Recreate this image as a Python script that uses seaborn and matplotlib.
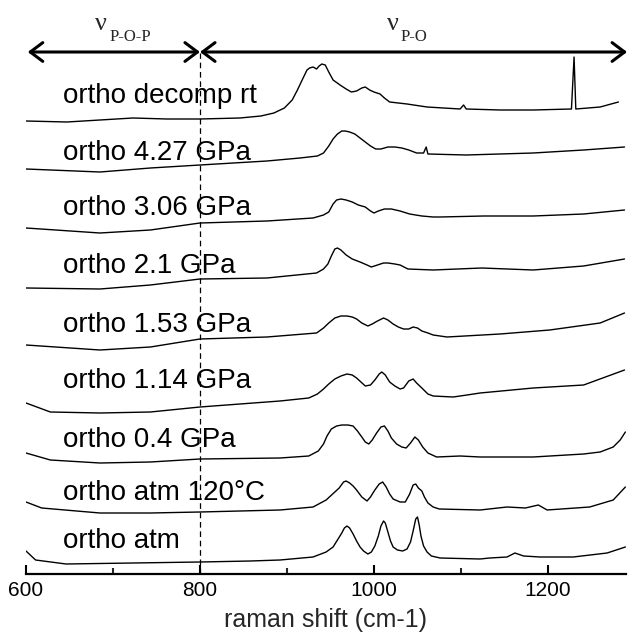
import matplotlib
matplotlib.use("Agg")
import matplotlib.pyplot as plt
from matplotlib.patches import FancyArrowPatch
from matplotlib.ticker import MultipleLocator
import seaborn as sns
import pandas as pd

# ---- data (stacked Raman traces, intensity in arbitrary offset units) ----
labels = ["ortho decomp rt", "ortho 4.27 GPa", "ortho 3.06 GPa", "ortho 2.1 GPa",
          "ortho 1.53 GPa", "ortho 1.14 GPa", "ortho 0.4 GPa", "ortho atm 120°C",
          "ortho atm"]

decomp_x = [600, 647, 685, 723, 762, 800, 846, 870, 885, 897, 906, 912, 918, 923, 926, 930,
            934, 937, 940, 944, 948, 953, 961, 968, 974, 980, 986, 990, 995, 1000, 1007,
            1012, 1018, 1028, 1038, 1061, 1099, 1103, 1106, 1145, 1183, 1227, 1230, 1232,
            1260, 1281]
decomp_y = [453, 452, 454, 456, 455, 455, 456, 458, 461, 466, 474, 484, 495, 504, 506, 507,
            505, 508, 510, 509, 502, 494, 489, 485, 482, 483, 486, 487, 484, 482, 480,
            476, 472, 471, 470, 467, 465, 469, 465, 464, 464, 465, 517, 465,
            467, 472]

p427_x = [600, 685, 743, 800, 877, 915, 935, 942, 948, 953, 958, 963, 967, 972, 978, 984,
          990, 996, 1002, 1008, 1016, 1024, 1032, 1040, 1049, 1057, 1060, 1062, 1106, 1183,
          1241, 1288]
p427_y = [405, 402, 406, 409, 413, 416, 418, 421, 428, 435, 440, 443, 443, 442, 440, 436,
          432, 428, 425, 425, 427, 427, 426, 424, 421, 421, 427, 420, 419, 421,
          424, 427]

p306_x = [600, 685, 743, 800, 877, 930, 942, 948, 953, 957, 962, 968, 975, 982, 990, 996,
          1000, 1005, 1012, 1020, 1030, 1041, 1055, 1068, 1076, 1126, 1183, 1241, 1288]
p306_y = [346, 341, 344, 351, 353, 356, 359, 362, 370, 374, 375, 374, 372, 369, 367, 363,
          361, 363, 365, 365, 363, 360, 358, 357, 357, 358, 358, 360, 364]

p21_x = [600, 685, 743, 800, 877, 934, 942, 947, 951, 955, 958, 962, 968, 975, 984, 992,
         997, 1004, 1011, 1016, 1024, 1030, 1039, 1068, 1124, 1183, 1241, 1288]
p21_y = [286, 285, 289, 295, 296, 301, 305, 310, 318, 325, 326, 324, 319, 315, 312, 309,
         307, 309, 311, 311, 310, 309, 305, 304, 306, 304, 308, 315]

p153_x = [600, 685, 743, 800, 877, 934, 942, 948, 955, 962, 969, 975, 980, 986, 993, 998,
          1004, 1011, 1016, 1022, 1028, 1034, 1040, 1045, 1050, 1055, 1062, 1068, 1084,
          1145, 1202, 1260, 1288]
p153_y = [229, 224, 227, 235, 237, 241, 246, 251, 256, 258, 258, 257, 255, 251, 248, 250,
          253, 256, 254, 250, 247, 245, 245, 247, 246, 243, 241, 239, 237,
          240, 244, 251, 261]

p114_x = [600, 628, 685, 743, 800, 892, 925, 935, 942, 948, 955, 962, 969, 975, 980, 985,
          990, 996, 1001, 1006, 1009, 1013, 1018, 1024, 1030, 1034, 1040, 1045, 1049, 1055,
          1062, 1068, 1091, 1107, 1122, 1183, 1241, 1288]
p114_y = [171, 162, 161, 162, 167, 173, 176, 180, 185, 190, 195, 198, 200, 199, 196, 192,
          188, 189, 194, 200, 202, 199, 192, 188, 185, 186, 193, 195, 191, 186,
          180, 178, 177, 179, 181, 186, 189, 204]

p04_x = [600, 628, 685, 743, 800, 892, 925, 936, 942, 946, 951, 957, 963, 970, 976, 981,
         986, 990, 994, 998, 1003, 1008, 1012, 1016, 1020, 1026, 1032, 1037, 1042, 1047,
         1051, 1056, 1062, 1072, 1099, 1122, 1183, 1241, 1260, 1275, 1283, 1289]
p04_y = [121, 114, 111, 112, 115, 116, 118, 123, 130, 138, 145, 148, 149, 149, 148, 143,
         137, 132, 130, 134, 141, 147, 148, 143, 136, 130, 127, 126, 131, 137,
         134, 127, 121, 117, 118, 117, 117, 120, 122, 127, 134, 142]

p120_x = [600, 618, 685, 743, 800, 892, 930, 945, 955, 960, 965, 968, 972, 976, 980, 986,
          992, 996, 1001, 1006, 1010, 1014, 1018, 1022, 1030, 1036, 1041, 1045, 1048, 1051,
          1055, 1058, 1062, 1068, 1075, 1122, 1153, 1174, 1189, 1199, 1248, 1275, 1289]
p120_y = [72, 66, 61, 61, 62, 64, 67, 74, 82, 86, 92, 93, 91, 88, 84, 77,
          73, 77, 84, 90, 92, 87, 80, 75, 72, 72, 80, 89, 90, 86,
          83, 77, 71, 67, 65, 64, 67, 66, 69, 64, 67, 74, 87]

patm_x = [600, 611, 646, 723, 800, 858, 892, 930, 945, 953, 958, 963, 966, 969, 972, 976,
          980, 984, 988, 993, 997, 1001, 1005, 1008, 1011, 1013, 1016, 1019, 1022, 1027,
          1033, 1038, 1042, 1045, 1048, 1050, 1052, 1054, 1057, 1061, 1066, 1076, 1122,
          1133, 1153, 1162, 1172, 1191, 1229, 1268, 1289]
patm_y = [23, 14, 10, 11, 12, 13, 14, 17, 22, 27, 34, 41, 46, 48, 46, 40,
          33, 27, 23, 20, 22, 28, 38, 48, 53, 51, 42, 33, 27, 24,
          23, 25, 32, 43, 55, 57, 49, 38, 28, 22, 18, 16, 15,
          16, 17, 21, 18, 17, 17, 21, 27]

xs = [decomp_x, p427_x, p306_x, p21_x, p153_x, p114_x, p04_x, p120_x, patm_x]
ys = [decomp_y, p427_y, p306_y, p21_y, p153_y, p114_y, p04_y, p120_y, patm_y]

xticks = [600, 800, 1000, 1200]
region_split = 800
xlabel = "raman shift (cm-1)"

# ---- style ----
sns.set_style("white")
plt.rcParams["font.family"] = ["Liberation Sans", "DejaVu Sans"]

fig = plt.figure(figsize=(6.28, 6.36), dpi=100)
ax = fig.add_axes([26 / 628, 62 / 636, 600 / 628, 574 / 636])

frames = []
for lab, x, y in zip(labels, xs, ys):
    frames.append(pd.DataFrame({"shift": x, "intensity": y, "sample": lab}))
df = pd.concat(frames, ignore_index=True)

for lab in labels:
    sub = df[df["sample"] == lab]
    sns.lineplot(data=sub, x="shift", y="intensity", ax=ax, color="black",
                 linewidth=1.0, estimator=None, sort=False, legend=False)

ax.set_xlim(600, 1289.7)
ax.set_ylim(0, 574)

# sample labels
label_base = [470.7, 414, 359, 300.7, 242.3, 185.7, 127.3, 74, 25.7]
for lab, yb in zip(labels, label_base):
    ax.text(642, yb, lab, fontsize=20, ha="left", va="baseline", color="black")

# dashed divider
ax.plot([region_split, region_split], [0, 521], color="black", lw=0.9,
        dashes=(4.5, 3), clip_on=False)

# region arrows
for x0, x1 in [(602, region_split), (region_split, 1291)]:
    arr = FancyArrowPatch((x0, 522), (x1, 522), arrowstyle="<->,head_length=0.6,head_width=0.45",
                          mutation_scale=15, lw=2.2, color="black", clip_on=False,
                          shrinkA=0, shrinkB=0)
    ax.add_patch(arr)

serif = ["Liberation Serif", "DejaVu Serif"]
ax.text(679, 544, "\u03bd", fontsize=19, family=serif, ha="left", va="baseline")
ax.text(696.5, 533, "P-O-P", fontsize=12, family=serif, ha="left", va="baseline")
ax.text(1014.5, 544, "\u03bd", fontsize=19, family=serif, ha="left", va="baseline")
ax.text(1031, 533, "P-O", fontsize=12, family=serif, ha="left", va="baseline")

# axes styling
for s in ["left", "top", "right"]:
    ax.spines[s].set_visible(False)
ax.spines["bottom"].set_linewidth(1.6)
ax.spines["bottom"].set_color("black")
ax.set_yticks([])
ax.set_xticks(xticks)
ax.xaxis.set_minor_locator(MultipleLocator(100))
ax.tick_params(axis="x", which="major", direction="in", length=6.5, width=1.5,
               labelsize=15, pad=5, colors="black", bottom=True)
ax.tick_params(axis="x", which="minor", direction="in", length=4, width=1.5, bottom=True)
ax.set_xlabel(xlabel, fontsize=18, labelpad=6)
ax.set_ylabel("")

fig.savefig("out.png", dpi=100)
